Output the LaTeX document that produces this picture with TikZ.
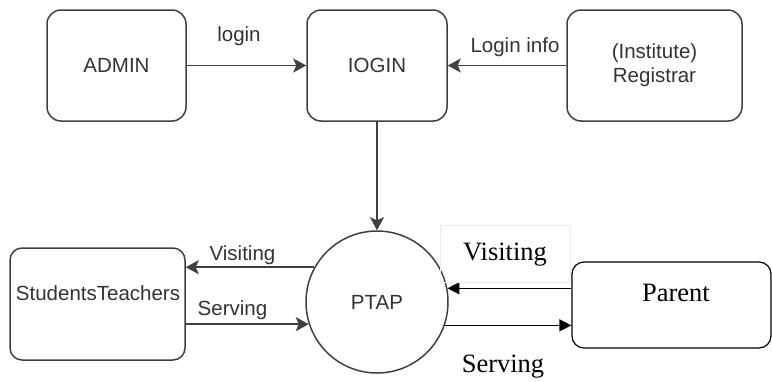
\documentclass[tikz,border=0pt]{standalone}
\usepackage{fontspec}
\usepackage{tikz}
\setmainfont{Liberation Serif}
\setsansfont{Liberation Sans}
\usetikzlibrary{arrows.meta}

\tikzset{
  entity/.style={draw=black!75, line width=1.5pt, rounded corners=14pt, text=black!80,
    font=\sffamily\fontsize{20.5}{24}\selectfont},
  flow/.style={draw=black!75, line width=1.6pt, -{Stealth[length=13pt,width=14pt,inset=3pt]}},
  sflabel/.style={anchor=base, text=black!80, font=\sffamily\fontsize{20.5}{24}\selectfont},
  rmlabel/.style={anchor=base, text=black, font=\rmfamily\fontsize{26.5}{30}\selectfont},
  wordflow/.style={draw=black, line width=1.3pt, -{Triangle[length=12pt,width=12pt]}},
}

\begin{document}
\begin{tikzpicture}[x=1pt, y=-1pt]
\useasboundingbox (0,0) rectangle (772,381);

	\node[entity, minimum width=139pt, minimum height=111pt] (admin) at (116.5,65.5) {ADMIN};
	\node[entity, minimum width=140pt, minimum height=111pt] (login) at (377,65.5) {IOGIN};
	\node[entity, minimum width=175pt, minimum height=111pt, align=center] (registrar) at (654.5,65.5) {(Institute)\\Registrar};

	\node[entity, circle, minimum size=142pt] (ptap) at (377,302) {PTAP};

	\node[entity, rounded corners=12pt, minimum width=175pt, minimum height=112pt] (st) at (97.5,304) {};
	\node[sflabel] (stname) at (98,300) {StudentsTeachers};

	\node[draw=black, line width=1.2pt, rounded corners=12pt, minimum width=199pt, minimum height=86pt] (parent) at (671.5,305) {};
	\node[rmlabel] (parentname) at (676,301.5) {Parent};

	\draw[flow] (admin) -- (login);
	\draw[flow] (registrar) -- (login);
	\draw[flow] (login) -- (ptap);

	\draw[flow] (ptap.151) -- (st.east |- ptap.151);
	\draw[flow] (st.east |- ptap.198) -- (ptap.198);

	\draw[wordflow] (parent.west |- ptap.11) -- (ptap.11);
	\draw[wordflow] (ptap.-19) -- (parent.west |- ptap.-19);

	\node[sflabel] (loginlbl) at (239,41) {login};
	\node[sflabel] (infolbl) at (515,52.5) {Login info};
	\node[sflabel] (visitst) at (242.5,260) {Visiting};
	\node[sflabel] (servst) at (232.5,315) {Serving};
	\node[rmlabel, draw=black!8, line width=0.8pt, minimum width=130pt, minimum height=57pt] (visitpa) at (505,260) {Visiting};
	\node[rmlabel] (servpa) at (503,372) {Serving};
\end{tikzpicture}
\end{document}
